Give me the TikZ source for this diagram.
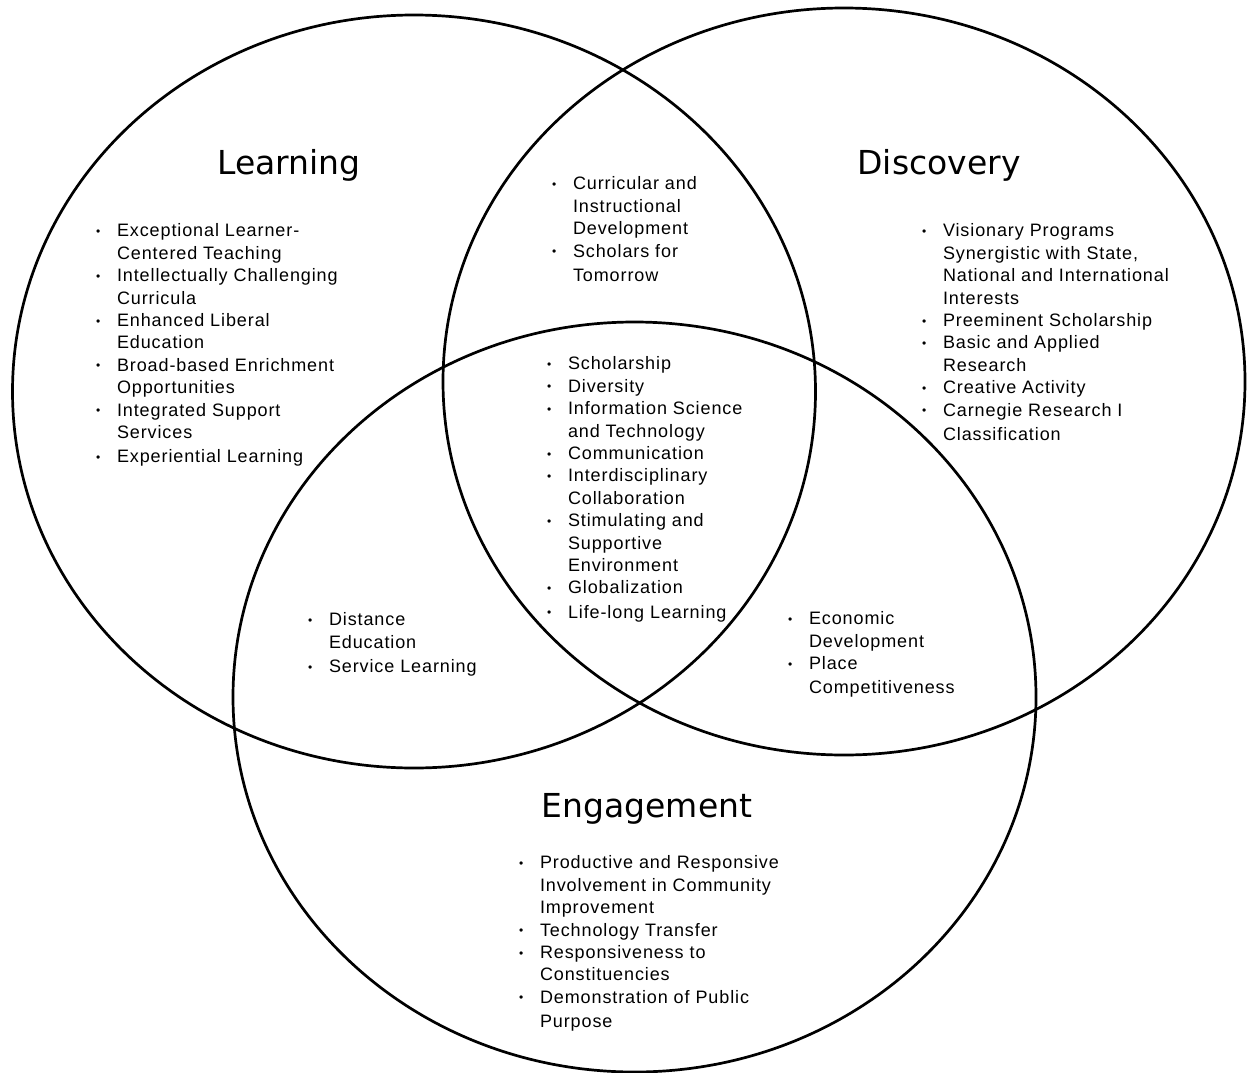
\documentclass[tikz,border=0pt]{standalone}
\usepackage{fontspec}
\setmainfont{Liberation Sans}[LetterSpace=5]
\newfontfamily\titlefont{DejaVu Sans}
\newcommand{\bul}{\makebox[21pt][l]{\raisebox{0.15ex}{\fontsize{12}{12}\selectfont\textbullet}}}
\newcommand{\ind}{\hspace*{21pt}}
\tikzset{
  venn/.style={draw=black, line width=2.7pt},
  lst/.style={anchor=north west, inner sep=0pt, outer sep=0pt, align=left,
    font=\fontsize{18}{22.4}\selectfont},
  ttl/.style={anchor=base, inner sep=0pt, font=\titlefont\fontsize{33}{33}\selectfont}
}
\begin{document}
\begin{tikzpicture}[x=1pt,y=-1pt]
\useasboundingbox (0,0) rectangle (1247,1073);
\draw[venn] (414,391.5) ellipse [x radius=401.5, y radius=376.5];
\draw[venn] (844,381.5) ellipse [x radius=401, y radius=373.5];
\draw[venn] (634.5,697) ellipse [x radius=401.5, y radius=375];

\node[ttl] (tlearn) at (289,174) {Learning};
\node[ttl] (tdisc) at (939,174) {Discovery};
\node[ttl] (teng) at (647,817) {Engagement};

\node[lst] (llearn) at (96,221.3) {\strut\bul Exceptional Learner-\\ \ind Centered Teaching\\ \bul Intellectually Challenging\\ \ind Curricula\\ \bul Enhanced Liberal\\ \ind Education\\ \bul Broad-based Enrichment\\ \ind Opportunities\\ \bul Integrated Support\\ \ind Services\\[1.5pt] \bul Experiential Learning};

\node[lst] (ltop) at (552,174.3) {\strut\bul Curricular and\\ \ind Instructional\\ \ind Development\\ \bul Scholars for\\[2pt] \ind Tomorrow};

\node[lst] (ldisc) at (922,221.3) {\strut\bul Visionary Programs\\ \ind Synergistic with State,\\ \ind National and International\\ \ind Interests\\ \bul Preeminent Scholarship\\ \bul Basic and Applied\\ \ind Research\\ \bul Creative Activity\\ \bul Carnegie Research I\\[2pt] \ind Classification};

\node[lst] (lcenter) at (547,354.3) {\strut\bul Scholarship\\ \bul Diversity\\ \bul Information Science\\ \ind and Technology\\ \bul Communication\\ \bul Interdisciplinary\\ \ind Collaboration\\ \bul Stimulating and\\ \ind Supportive\\ \ind Environment\\ \bul Globalization\\[2pt] \bul Life-long Learning};

\node[lst] (lleft) at (308,610.3) {\strut\bul Distance\\ \ind Education\\[2pt] \bul Service Learning};

\node[lst] (lright) at (788,609.3) {\strut\bul Economic\\ \ind Development\\ \bul Place\\[1.5pt] \ind Competitiveness};

\node[lst] (leng) at (519,853.3) {\strut\bul Productive and Responsive\\ \ind Involvement in Community\\ \ind Improvement\\ \bul Technology Transfer\\ \bul Responsiveness to\\ \ind Constituencies\\ \bul Demonstration of Public\\[2pt] \ind Purpose};
\end{tikzpicture}
\end{document}
